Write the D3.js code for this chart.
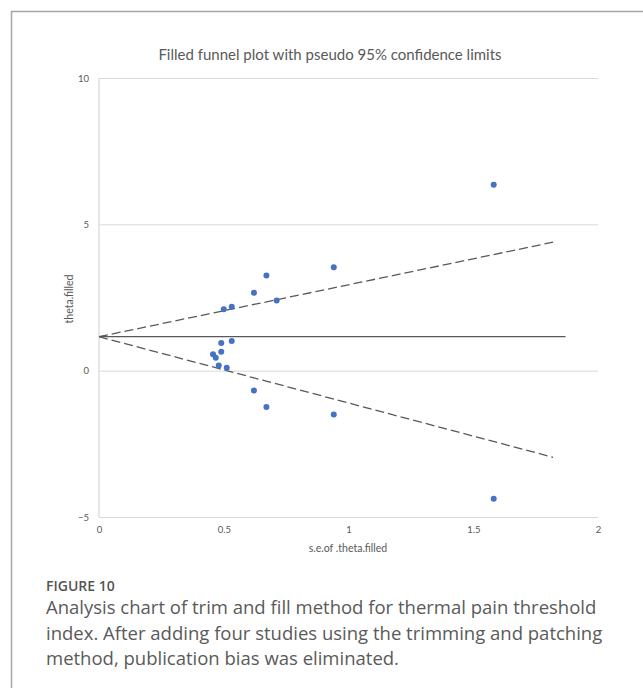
<!DOCTYPE html>
<html>
<head>
<meta charset="utf-8">
<script src="https://cdn.jsdelivr.net/npm/d3@7"></script>
<style>
  body { margin: 0; background: #fff; }
  svg text { font-family: Lato, "Open Sans", sans-serif; }
</style>
</head>
<body>
<script>
// study points (s.e., theta)
const seValues = [0.941, 0.671, 0.621, 0.712, 0.500, 0.532, 0.490, 0.532, 0.490, 0.457, 0.468, 0.480, 0.512, 0.621, 0.671, 0.941, 1.582, 1.582];
const thetaValues = [3.53, 3.25, 2.66, 2.40, 2.10, 2.18, 0.945, 1.01, 0.65, 0.56, 0.44, 0.18, 0.10, -0.68, -1.24, -1.50, 6.35, -4.38];

// pooled estimate and pseudo confidence limits
const pooledLine = [[0, 1.16], [1.87, 1.16]];
const upperLimit = [[0, 1.16], [1.82, 4.39]];
const lowerLimit = [[0, 1.16], [1.82, -2.96]];

const xTicks = [0, 0.5, 1, 1.5, 2];
const yTicks = [-5, 0, 5, 10];

const titleText = "Filled funnel plot with pseudo 95% confidence limits";
const xLabel = "s.e.of .theta.filled";
const yLabel = "theta.filled";
const figLabel = "FIGURE 10";
const captionLines = [
  "Analysis chart of trim and fill method for thermal pain threshold",
  "index. After adding four studies using the trimming and patching",
  "method, publication bias was eliminated."
];

const W = 643, H = 688;
const svg = d3.select("body").append("svg")
    .attr("width", W)
    .attr("height", H);

// frame around the figure
svg.append("path")
    .attr("d", "M11.5," + H + "V11.5H" + W)
    .attr("fill", "none")
    .attr("stroke", "#a6a6a6")
    .attr("stroke-width", 1.5);

const x = d3.scaleLinear().domain([0, 2]).range([99, 598]);
const y = d3.scaleLinear().domain([-5, 10]).range([517, 78]);

// gridlines + y tick labels
const yAxis = d3.axisLeft(y)
    .tickValues(yTicks)
    .tickSize(-(x(2) - x(0)))
    .tickPadding(10)
    .tickFormat(d3.format("d"));

const gy = svg.append("g")
    .attr("transform", "translate(" + x(0) + ",0)")
    .call(yAxis);
gy.select(".domain").remove();
gy.selectAll(".tick line").attr("stroke", "#d9d9d9").attr("stroke-width", 1);
gy.selectAll(".tick text")
    .attr("fill", "#595959")
    .style("font-size", "9.5px")
    .style("font-family", "Lato, sans-serif");

// vertical axis line
svg.append("line")
    .attr("x1", x(0)).attr("x2", x(0))
    .attr("y1", y(10)).attr("y2", y(-5))
    .attr("stroke", "#d9d9d9")
    .attr("stroke-width", 1.2);

// x tick labels
const xAxis = d3.axisBottom(x)
    .tickValues(xTicks)
    .tickSize(0)
    .tickPadding(9)
    .tickFormat(d => d3.format("")(d));

const gx = svg.append("g")
    .attr("transform", "translate(0," + y(-5) + ")")
    .call(xAxis);
gx.select(".domain").remove();
gx.selectAll(".tick text")
    .attr("fill", "#595959")
    .style("font-size", "9.5px")
    .style("font-family", "Lato, sans-serif");

const line = d3.line()
    .x(d => x(d[0]))
    .y(d => y(d[1]));

svg.append("path")
    .attr("d", line(pooledLine))
    .attr("fill", "none")
    .attr("stroke", "#595959")
    .attr("stroke-width", 1.3);

[upperLimit, lowerLimit].forEach(l => {
  svg.append("path")
      .attr("d", line(l))
      .attr("fill", "none")
      .attr("stroke", "#595959")
      .attr("stroke-width", 1.3)
      .attr("stroke-dasharray", "9,4");
});

// points
svg.append("g")
  .selectAll("circle")
  .data(seValues.map((s, i) => [s, thetaValues[i]]))
  .join("circle")
    .attr("cx", d => x(d[0]))
    .attr("cy", d => y(d[1]))
    .attr("r", 3)
    .attr("fill", "#4472c4");

// title and axis labels
svg.append("text")
    .attr("x", 330).attr("y", 60)
    .attr("text-anchor", "middle")
    .attr("fill", "#595959")
    .style("font-size", "15px")
    .text(titleText);

svg.append("text")
    .attr("x", 348).attr("y", 552)
    .attr("text-anchor", "middle")
    .attr("fill", "#595959")
    .style("font-size", "10.5px")
    .text(xLabel);

svg.append("text")
    .attr("transform", "translate(73,299) rotate(-90)")
    .attr("text-anchor", "middle")
    .attr("fill", "#595959")
    .style("font-size", "10.5px")
    .text(yLabel);

// caption
svg.append("text")
    .attr("x", 46).attr("y", 591)
    .attr("fill", "#555")
    .style("font-family", "'Open Sans', sans-serif")
    .style("font-size", "14px")
    .style("font-weight", 600)
    .text(figLabel);

svg.append("g")
  .selectAll("text")
  .data(captionLines)
  .join("text")
    .attr("x", 46)
    .attr("y", (d, i) => 614 + i * 25.5)
    .attr("fill", "#5a5a5a")
    .style("font-family", "'Open Sans', sans-serif")
    .style("font-size", "18.5px")
    .text(d => d);
</script>
</body>
</html>
